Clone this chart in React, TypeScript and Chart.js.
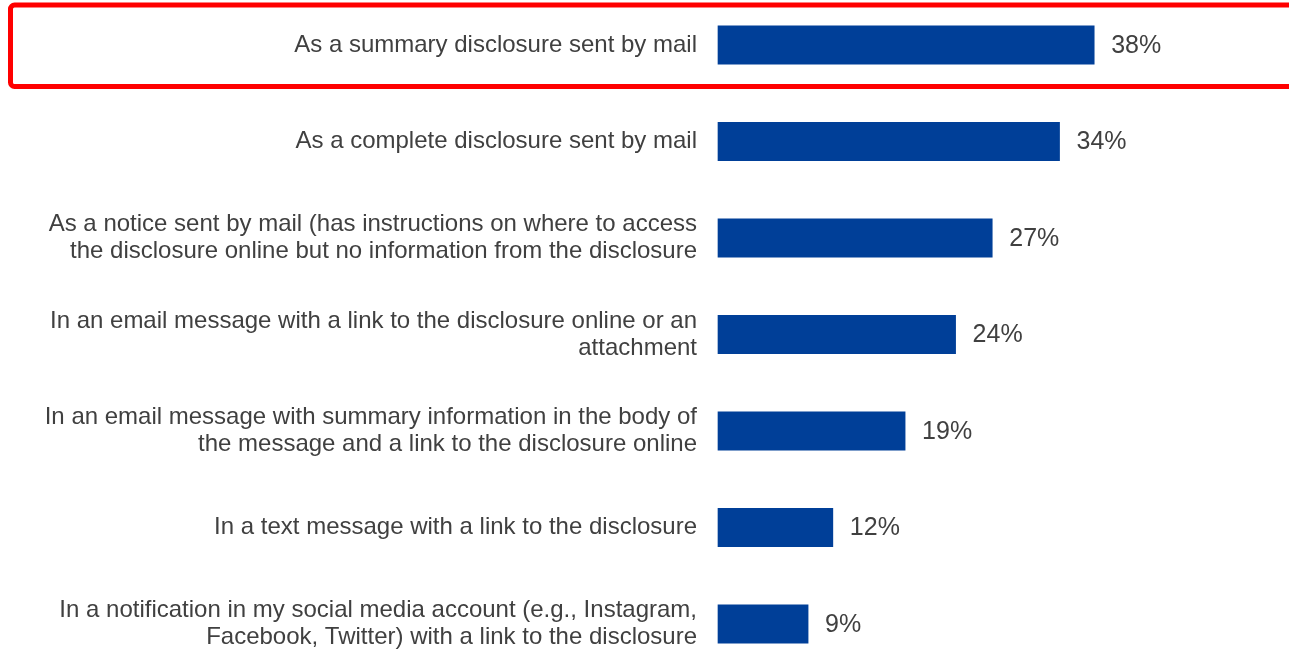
import React, { useEffect, useRef } from "react";
import { Chart, registerables } from "chart.js";

Chart.register(...registerables);

const categories: (string | string[])[] = [
  "As a summary disclosure sent by mail",
  "As a complete disclosure sent by mail",
  [
    "As a notice sent by mail (has instructions on where to access",
    "the disclosure online but no information from the disclosure",
  ],
  ["In an email message with a link to the disclosure online or an", "attachment"],
  [
    "In an email message with summary information in the body of",
    "the message and a link to the disclosure online",
  ],
  "In a text message with a link to the disclosure",
  [
    "In a notification in my social media account (e.g., Instagram,",
    "Facebook, Twitter) with a link to the disclosure",
  ],
];

const values: number[] = [38, 34.5, 27.7, 24, 18.9, 11.6, 9.1];
const valueLabels: string[] = ["38%", "34%", "27%", "24%", "19%", "12%", "9%"];

const FONT = "Arial, 'Liberation Sans', sans-serif";
const TEXT = "#404040";
const BAR = "#003F98";

const valueLabelPlugin = {
  id: "valueLabels",
  afterDatasetsDraw(chart: any) {
    const ctx = chart.ctx;
    const meta = chart.getDatasetMeta(0);
    ctx.save();
    ctx.font = `25px ${FONT}`;
    ctx.fillStyle = TEXT;
    ctx.textAlign = "left";
    ctx.textBaseline = "middle";
    meta.data.forEach((bar: any, i: number) => {
      ctx.fillText(valueLabels[i], bar.x + 17, bar.y + 1);
    });
    ctx.restore();
  },
};

const highlightPlugin = {
  id: "highlight",
  afterDraw(chart: any) {
    const ctx = chart.ctx;
    const meta = chart.getDatasetMeta(0);
    const first = meta.data[0];
    if (!first) return;
    const top = first.y - 40;
    const h = 81.5;
    const x = 10.5;
    const w = 1400;
    const r = 4;
    ctx.save();
    ctx.strokeStyle = "#FF0000";
    ctx.lineWidth = 5;
    ctx.beginPath();
    ctx.moveTo(x + r, top);
    ctx.lineTo(x + w, top);
    ctx.moveTo(x + w, top + h);
    ctx.lineTo(x + r, top + h);
    ctx.arcTo(x, top + h, x, top + h - r, r);
    ctx.lineTo(x, top + r);
    ctx.arcTo(x, top, x + r, top, r);
    ctx.stroke();
    ctx.restore();
  },
};

export default function App() {
  const canvasRef = useRef<HTMLCanvasElement | null>(null);

  useEffect(() => {
    if (!canvasRef.current) return;
    const chart = new Chart(canvasRef.current, {
      type: "bar",
      data: {
        labels: categories,
        datasets: [
          {
            data: values,
            backgroundColor: BAR,
            borderWidth: 0,
            barThickness: 38.5,
            clip: false as any,
          },
        ],
      },
      options: {
        indexAxis: "y",
        animation: false,
        responsive: false,
        maintainAspectRatio: false,
        layout: { padding: { top: 45, bottom: 25, left: 0, right: 76 } },
        plugins: {
          legend: { display: false },
          tooltip: { enabled: false },
        },
        scales: {
          x: {
            display: false,
            min: 0,
            max: 50,
          },
          y: {
            offset: false,
            border: { display: false },
            grid: { display: false, drawTicks: false },
            ticks: {
              autoSkip: false,
              padding: 21,
              color: TEXT,
              font: { family: FONT, size: 24, lineHeight: 1.13 },
            },
            afterFit(scale: any) {
              scale.width = 718;
              scale.paddingTop = 0;
              scale.paddingBottom = 0;
            },
          },
        },
      },
      plugins: [valueLabelPlugin, highlightPlugin],
    });
    return () => chart.destroy();
  }, []);

  return (
    <div style={{ position: "fixed", left: 0, top: 0, width: 1289, height: 649, background: "#fff" }}>
      <canvas ref={canvasRef} width={1289} height={649} style={{ display: "block" }} />
    </div>
  );
}
